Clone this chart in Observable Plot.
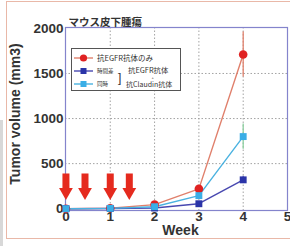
<!DOCTYPE html>
<html><head><meta charset="utf-8">
<script src="https://cdn.jsdelivr.net/npm/d3@7"></script>
<script src="https://cdn.jsdelivr.net/npm/@observablehq/plot@0.6"></script>
<style>
body{margin:0;background:#fff;font-family:"Liberation Sans",Arial,sans-serif;}
#wrap{position:relative;width:290px;height:246px;overflow:hidden;}
#border{position:absolute;left:6px;top:1px;width:290px;height:238px;border:1px solid #e9b8a8;box-sizing:border-box;pointer-events:none;}
#gbar{position:absolute;left:0;top:120px;width:3px;height:126px;background:#d8d8d8;}
</style></head>
<body><div id="wrap"><div id="gbar"></div><div id="border"></div></div>
<script>
const weeks = [0, 1, 2, 3, 4];
const egfrOnly = [0, 5, 45, 220, 1710];      // 抗EGFR抗体のみ
const staggered = [0, 3, 8, 55, 320];        // 時間差
const simultaneous = [0, 4, 22, 145, 800];   // 同時
const errWeek = 4;
const egfrErr = 250, staggeredErr = 40, simultaneousErr = 140;
const doseWeeks = [0, 0.43, 1, 1.43];
const xTicks = [0, 1, 2, 3, 4, 5];
const yTicks = [0, 500, 1000, 1500, 2000];
const title = "マウス皮下腫瘍";
const xLabel = "Week";
const yLabel = "Tumor volume (mm3)";
const legendMain = "抗EGFR抗体のみ";
const legendStag = "時間差";
const legendSim = "同時";
const legendCombo1 = "抗EGFR抗体";
const legendCombo2 = "抗Claudin抗体";

const series = [
  {name: "egfr", values: egfrOnly, err: egfrErr, line: "#e0806c", pt: "#e02222", errc: "#e0806c", sym: "circle", r: 4.3},
  {name: "stag", values: staggered, err: staggeredErr, line: "#4848b0", pt: "#2a34a8", errc: "#6a6ac0", sym: "square", r: 3.9},
  {name: "sim", values: simultaneous, err: simultaneousErr, line: "#4ab2e0", pt: "#3aaee6", errc: "#8ccfa0", sym: "square", r: 3.9}
];
const rows = series.flatMap(s => weeks.map((w, i) => ({s: s.name, w, v: s.values[i]})));

const red = "#e52a1e";
const marks = [
  Plot.gridX([1,2,3,4], {stroke: "#999", strokeDasharray: "1.5,2", strokeOpacity: 0.9}),
  Plot.gridY([500,1000,1500], {stroke: "#999", strokeDasharray: "1.5,2", strokeOpacity: 0.9}),
  Plot.frame({stroke: "#8484cc", strokeWidth: 1.2}),
  Plot.axisY(yTicks, {tickSize: 0, tickPadding: 2, tickFormat: d => String(d), fontSize: 13.5, fontWeight: "bold", fill: "#333", label: null}),
  Plot.axisX(xTicks, {tickSize: 0, tickPadding: 1, tickFormat: d => String(d), fontSize: 13.5, fontWeight: "bold", fill: "#333", label: null}),
  Plot.text([xLabel], {frameAnchor: "bottom", textAnchor: "middle", dy: 24, dx: 4, fontSize: 14, fontWeight: "bold", fill: "#333"}),
  Plot.text([yLabel], {frameAnchor: "left", textAnchor: "middle", dx: -50, dy: -5, rotate: -90, fontSize: 14, fontWeight: "bold", fill: "#333"}),
  Plot.text([title], {frameAnchor: "top-left", dx: 3, dy: -9, textAnchor: "start", fontSize: 10.5, fontWeight: "bold", fill: "#333", fontFamily: "Noto Sans CJK JP"})
];
for (const s of series) {
  marks.push(Plot.ruleX([{w: errWeek, v: s.values[4], e: s.err}], {x: "w", y1: d => d.v - d.e, y2: d => d.v + d.e, stroke: s.errc, strokeWidth: 1.3}));
}
for (const s of series) {
  const d = rows.filter(r => r.s === s.name);
  marks.push(Plot.line(d, {x: "w", y: "v", stroke: s.line, strokeWidth: 1.4}));
}
for (const s of series) {
  const d = rows.filter(r => r.s === s.name);
  marks.push(Plot.dot(d, {x: "w", y: "v", fill: s.pt, symbol: s.sym, r: s.r}));
}
// dosing arrows
marks.push(Plot.ruleX(doseWeeks, {x: d => d, y1: 385, y2: 205, stroke: red, strokeWidth: 7}));
marks.push(Plot.dot(doseWeeks, {x: d => d, y: 185, symbol: "triangle", rotate: 180, r: 5.1, fill: red}));

const chart = Plot.plot({
  width: 290, height: 246,
  marginLeft: 65, marginRight: 3, marginTop: 27, marginBottom: 36,
  style: {background: "transparent", fontFamily: "Liberation Sans, Arial, sans-serif"},
  x: {domain: [-0.01, 5], axis: null},
  y: {domain: [-20, 2010], axis: null},
  marks
});
chart.style.position = "absolute";
chart.style.left = "0"; chart.style.top = "0";
document.getElementById("wrap").appendChild(chart);

// legend
const svg = d3.select(chart);
const g = svg.append("g").attr("font-family", "Noto Sans CJK JP, sans-serif").attr("fill", "#333").attr("text-anchor", "start");
g.append("rect").attr("x", 71.5).attr("y", 48.5).attr("width", 109).attr("height", 42).attr("fill", "#fff").attr("stroke", "#555").attr("stroke-width", 1);
const lrows = [
  {s: series[0], y: 58, text: legendMain, fs: 7.5},
  {s: series[1], y: 71, text: legendStag, fs: 5.5},
  {s: series[2], y: 84, text: legendSim, fs: 5.5}
];
for (const r of lrows) {
  g.append("line").attr("x1", 74).attr("x2", 93).attr("y1", r.y).attr("y2", r.y).attr("stroke", r.s.line).attr("stroke-width", 1.4);
  if (r.s.sym === "circle") g.append("circle").attr("cx", 83.5).attr("cy", r.y).attr("r", 3.6).attr("fill", r.s.pt);
  else g.append("rect").attr("x", 80.5).attr("y", r.y - 3).attr("width", 6).attr("height", 6).attr("fill", r.s.pt);
  g.append("text").attr("x", 97).attr("y", r.y).attr("dy", "0.35em").attr("font-size", r.fs).text(r.text);
}
g.append("text").attr("x", 118).attr("y", 77.5).attr("dy", "0.35em").attr("font-size", 12).attr("font-family", "Liberation Sans").text("]");
g.append("text").attr("x", 128).attr("y", 70).attr("dy", "0.35em").attr("font-size", 7.4).text(legendCombo1);
g.append("text").attr("x", 151.5).attr("y", 77.3).attr("dy", "0.35em").attr("font-size", 4).attr("font-family", "Liberation Sans").text("+");
g.append("text").attr("x", 126).attr("y", 84.5).attr("dy", "0.35em").attr("font-size", 7).text(legendCombo2);
</script></body></html>
